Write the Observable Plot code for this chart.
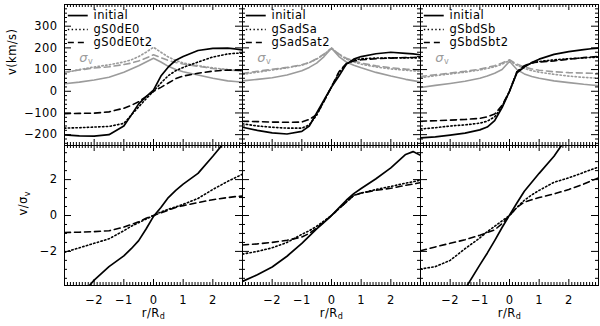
<!DOCTYPE html>
<html><head><meta charset="utf-8">
<script src="https://cdn.jsdelivr.net/npm/d3@7"></script>
<script src="https://cdn.jsdelivr.net/npm/@observablehq/plot@0.6"></script>
<style>
body{margin:0;background:#fff;}
#chart{position:relative;width:600px;height:326px;overflow:hidden;background:#fff;}
#chart svg{position:absolute;left:0;background:transparent !important;}
</style></head><body><div id="chart"></div>
<script>
// radius grid (r / R_d)
const rGrid = [-3,-2.5,-2,-1.5,-1,-0.75,-0.5,-0.25,0,0.25,0.5,0.75,1,1.5,2,2.5,2.75,3];
const panels = ["gS0dE0","gSadSa","gSbdSb"];
const legendNames = [["initial","gS0dE0","gS0dE0t2"],["initial","gSadSa","gSadSat2"],["initial","gSbdSb","gSbdSbt2"]];

// top row: rotation velocity v (km/s)
const v1Init  = [-201,-206,-207,-200,-160,-110,-58,-25,5,70,112,143,160,188,198,199,195,190];
const v1Merg  = [-170,-168,-165,-162,-148,-110,-72,-35,0,38,72,95,110,135,158,172,175,176];
const v1Merg2 = [-103,-102,-101,-95,-78,-65,-48,-25,0,18,38,58,70,83,93,98,97,96];
const s1Init  = [35,42,52,65,88,103,118,135,152,135,115,100,90,75,60,48,45,42];
const s1Merg  = [85,100,112,122,135,145,160,180,203,180,158,142,130,118,108,100,97,95];
const s1Merg2 = [88,98,107,113,123,130,140,153,168,155,142,133,126,115,105,98,96,95];

const v2Init  = [-166,-180,-192,-197,-185,-160,-100,-40,20,70,125,148,160,173,180,175,172,168];
const v2Merg  = [-150,-160,-166,-170,-170,-155,-110,-45,20,85,125,143,150,153,154,154,154,154];
const v2Merg2 = [-138,-140,-142,-143,-142,-130,-108,-45,20,90,128,140,145,150,153,155,156,157];
const s2Init  = [48,55,62,75,95,110,130,160,198,160,135,120,108,87,70,55,49,43];
const s2Merg  = [78,88,98,108,120,132,148,170,200,170,148,135,125,112,103,97,94,92];
const s2Merg2 = [82,92,101,110,122,133,150,172,198,172,152,140,130,117,108,102,100,98];

const v3Init  = [-215,-210,-202,-193,-178,-165,-135,-75,0,85,112,132,148,170,183,192,196,199];
const v3Merg  = [-174,-168,-160,-155,-147,-138,-118,-70,0,90,115,130,137,145,150,154,156,157];
const v3Merg2 = [-138,-136,-133,-130,-125,-118,-105,-65,0,90,118,132,135,140,148,155,158,160];
const s3Init  = [17,27,36,46,60,70,83,100,138,100,80,68,60,48,40,32,29,26];
const s3Merg  = [62,72,80,88,98,105,113,125,142,120,105,95,88,78,70,64,62,60];
const s3Merg2 = [68,76,84,92,102,110,118,130,145,125,112,103,97,90,86,84,83,83];

// bottom row: v / sigma_v
const q1Init  = [-5.0,-4.55,-3.6,-2.85,-2.25,-1.85,-1.4,-0.75,-0.05,0.45,1.0,1.4,1.75,2.35,3.3,4.3,4.7,5.0];
const q1Merg  = [-2.05,-1.8,-1.55,-1.3,-0.85,-0.6,-0.4,-0.2,0,0.2,0.35,0.48,0.62,0.95,1.45,1.9,2.1,2.3];
const q1Merg2 = [-0.95,-0.93,-0.9,-0.85,-0.65,-0.5,-0.35,-0.15,0,0.15,0.3,0.45,0.55,0.72,0.88,1.0,1.05,1.08];
const q2Init  = [-3.67,-3.3,-2.87,-2.27,-1.55,-1.15,-0.75,-0.38,0,0.42,0.85,1.22,1.5,2.05,2.65,3.4,3.56,3.35];
const q2Merg  = [-2.15,-2.0,-1.8,-1.5,-1.05,-0.85,-0.6,-0.3,0,0.38,0.75,1.12,1.25,1.45,1.62,1.8,1.88,1.97];
const q2Merg2 = [-1.64,-1.58,-1.5,-1.38,-1.2,-1.0,-0.7,-0.35,0,0.38,0.75,1.12,1.25,1.4,1.52,1.68,1.75,1.83];
const q3Init  = [-7.5,-6.4,-5.3,-4.1,-2.75,-2.1,-1.4,-0.67,0.02,0.7,1.35,1.85,2.35,3.3,4.5,5.7,6.3,6.9];
const q3Merg  = [-2.98,-2.85,-2.5,-1.85,-1.25,-0.9,-0.6,-0.3,0,0.45,0.85,1.15,1.4,1.85,2.1,2.4,2.55,2.7];
const q3Merg2 = [-1.96,-1.75,-1.55,-1.35,-1.1,-0.95,-0.8,-0.45,0,0.45,0.75,0.88,1.0,1.2,1.45,1.75,1.93,2.1];

// tick values
const xTickLabels = [-2,-1,0,1,2];
const yTopLabels = [-200,-100,0,100,200,300];
const yBotLabels = [-2,0,2];

// ---- build tidy tables
const rows = (panel, series, vals) => rGrid.map((r, i) => ({panel, series, r, y: vals[i]}));
const topRows = [
  ...rows(panels[0],"init",v1Init), ...rows(panels[0],"merg",v1Merg), ...rows(panels[0],"merg2",v1Merg2),
  ...rows(panels[0],"sinit",s1Init), ...rows(panels[0],"smerg",s1Merg), ...rows(panels[0],"smerg2",s1Merg2),
  ...rows(panels[1],"init",v2Init), ...rows(panels[1],"merg",v2Merg), ...rows(panels[1],"merg2",v2Merg2),
  ...rows(panels[1],"sinit",s2Init), ...rows(panels[1],"smerg",s2Merg), ...rows(panels[1],"smerg2",s2Merg2),
  ...rows(panels[2],"init",v3Init), ...rows(panels[2],"merg",v3Merg), ...rows(panels[2],"merg2",v3Merg2),
  ...rows(panels[2],"sinit",s3Init), ...rows(panels[2],"smerg",s3Merg), ...rows(panels[2],"smerg2",s3Merg2)
];
const botRows = [
  ...rows(panels[0],"init",q1Init), ...rows(panels[0],"merg",q1Merg), ...rows(panels[0],"merg2",q1Merg2),
  ...rows(panels[1],"init",q2Init), ...rows(panels[1],"merg",q2Merg), ...rows(panels[1],"merg2",q2Merg2),
  ...rows(panels[2],"init",q3Init), ...rows(panels[2],"merg",q3Merg), ...rows(panels[2],"merg2",q3Merg2)
];
const sel = (data, s) => data.filter(d => d.series === s);

// ---- layout / style
const W = 600, ML = 64, MR = 2;
const facetW = (W - ML - MR) / 3;
const topH = 141, botH = 140;
const GRAY = "#9b9b9b";
const FONT = "'DejaVu Sans', Verdana, sans-serif";
const FS = 11.5;
const DOT = "1.4,2.4", DASH = "6,4";
const minusFmt = d => d < 0 ? "\u2212" + Math.abs(d) : String(d);

const xMinor = d3.range(-29, 30).filter(i => i % 10 !== 0).map(i => i / 10);
const yTopMinor = d3.range(-240, 400, 20).filter(v => v % 100 !== 0);
const yTopMajor = d3.range(-200, 400, 100);
const yBotMinor = d3.range(-3.5, 3.6, 0.5).filter(v => Math.abs(v % 2) > 1e-9);

function frameTicks(h, yMajor, yMinor) {
  return [
    Plot.tickX(xMinor, {x: d => d, insetTop: h - 3, stroke: "black"}),
    Plot.tickX(xMinor, {x: d => d, insetBottom: h - 3, stroke: "black"}),
    Plot.tickX(xTickLabels, {x: d => d, insetTop: h - 6, stroke: "black"}),
    Plot.tickX(xTickLabels, {x: d => d, insetBottom: h - 6, stroke: "black"}),
    Plot.tickY(yMinor, {y: d => d, insetRight: facetW - 3, stroke: "black"}),
    Plot.tickY(yMinor, {y: d => d, insetLeft: facetW - 3, stroke: "black"}),
    Plot.tickY(yMajor, {y: d => d, insetRight: facetW - 7, stroke: "black"}),
    Plot.tickY(yMajor, {y: d => d, insetLeft: facetW - 7, stroke: "black"}),
    Plot.frame({stroke: "black", strokeWidth: 1})
  ];
}

// legend placement (data coordinates of the top panels)
const legX1 = -2.87, legX2 = -2.2, legTextX = -2.02;
const legLineY = [349, 285, 225];
const legTextY = [351, 287, 224];
const legRows = panels.flatMap((p, pi) => legendNames[pi].map((name, i) => ({panel: p, i, name})));

const baseStyle = {fontFamily: FONT, fontSize: FS + "px", background: "transparent", color: "black", letterSpacing: "0.4px"};

const topPlot = Plot.plot({
  width: W, height: 4 + topH + 1,
  marginLeft: ML, marginRight: MR, marginTop: 4, marginBottom: 1,
  style: baseStyle,
  fx: {domain: panels, padding: 0, axis: null},
  x: {domain: [-3, 3], axis: null},
  y: {domain: [-250, 400], ticks: yTopLabels, tickSize: 0, tickPadding: 7, label: null, tickFormat: minusFmt},
  marks: [
    Plot.line(sel(topRows,"sinit"), {x:"r", y:"y", fx:"panel", stroke: GRAY, strokeWidth: 1.6, clip: true}),
    Plot.line(sel(topRows,"smerg"), {x:"r", y:"y", fx:"panel", stroke: GRAY, strokeWidth: 1.6, strokeDasharray: DOT, clip: true}),
    Plot.line(sel(topRows,"smerg2"), {x:"r", y:"y", fx:"panel", stroke: GRAY, strokeWidth: 1.6, strokeDasharray: DASH, clip: true}),
    Plot.line(sel(topRows,"init"), {x:"r", y:"y", fx:"panel", stroke: "black", strokeWidth: 1.7, clip: true}),
    Plot.line(sel(topRows,"merg"), {x:"r", y:"y", fx:"panel", stroke: "black", strokeWidth: 1.6, strokeDasharray: DOT, clip: true}),
    Plot.line(sel(topRows,"merg2"), {x:"r", y:"y", fx:"panel", stroke: "black", strokeWidth: 1.6, strokeDasharray: DASH, clip: true}),
    ...frameTicks(topH, yTopMajor, yTopMinor),
    // legend
    Plot.ruleY(legRows.filter(d => d.i === 0), {fx:"panel", y: () => legLineY[0], x1: () => legX1, x2: () => legX2, stroke: "black", strokeWidth: 1.7}),
    Plot.ruleY(legRows.filter(d => d.i === 1), {fx:"panel", y: () => legLineY[1], x1: () => legX1, x2: () => legX2, stroke: "black", strokeWidth: 1.6, strokeDasharray: DOT}),
    Plot.ruleY(legRows.filter(d => d.i === 2), {fx:"panel", y: () => legLineY[2], x1: () => legX1, x2: () => legX2, stroke: "black", strokeWidth: 1.6, strokeDasharray: DASH}),
    Plot.text(legRows, {fx:"panel", x: () => legTextX, y: d => legTextY[d.i], text: "name", textAnchor: "start", fill: "black", fontSize: FS}),
    // sigma label
    Plot.text(panels, {fx: d => d, x: () => -2.5, y: () => 155, text: () => "σ_v", textAnchor: "start", fill: GRAY, fontSize: 13, fontStyle: "italic"}),
    // y label
    Plot.text([panels[0]], {fx: d => d, frameAnchor: "left", dx: -52, rotate: -90, text: () => "v(km/s)", fill: "black", fontSize: FS})
  ]
});

const botPlot = Plot.plot({
  width: W, height: 1 + botH + 41,
  marginLeft: ML, marginRight: MR, marginTop: 1, marginBottom: 41,
  style: baseStyle,
  fx: {domain: panels, padding: 0, axis: null},
  x: {domain: [-3, 3], ticks: xTickLabels, tickSize: 0, tickPadding: 10, label: null, tickFormat: minusFmt},
  y: {domain: [-3.9, 3.9], ticks: yBotLabels, tickSize: 0, tickPadding: 7, label: null, tickFormat: minusFmt},
  marks: [
    Plot.line(sel(botRows,"init"), {x:"r", y:"y", fx:"panel", stroke: "black", strokeWidth: 1.7, clip: true}),
    Plot.line(sel(botRows,"merg"), {x:"r", y:"y", fx:"panel", stroke: "black", strokeWidth: 1.6, strokeDasharray: DOT, clip: true}),
    Plot.line(sel(botRows,"merg2"), {x:"r", y:"y", fx:"panel", stroke: "black", strokeWidth: 1.6, strokeDasharray: DASH, clip: true}),
    ...frameTicks(botH, yBotLabels, yBotMinor),
    Plot.text(panels, {fx: d => d, frameAnchor: "bottom", dy: 31, text: () => "r/R_d", fill: "black", fontSize: FS}),
    Plot.text([panels[0]], {fx: d => d, frameAnchor: "left", dx: -41, rotate: -90, text: () => "v/σ_v", fill: "black", fontSize: FS})
  ]
});

function subscripts(svg) {
  svg.querySelectorAll("text").forEach(t => {
    const s = t.textContent;
    if (!s.includes("_") || t.querySelector("tspan")) return;
    const [base, sub] = s.split("_");
    t.textContent = "";
    const ns = "http://www.w3.org/2000/svg";
    const a = document.createElementNS(ns, "tspan"); a.textContent = base; t.appendChild(a);
    const b = document.createElementNS(ns, "tspan"); b.textContent = sub;
    b.setAttribute("font-size", "8"); b.setAttribute("font-style", "normal"); b.setAttribute("dy", "0.3em"); t.appendChild(b);
  });
}
subscripts(topPlot); subscripts(botPlot);

topPlot.style.top = "0px";
botPlot.style.top = "144px";
const chart = document.getElementById("chart");
chart.appendChild(topPlot);
chart.appendChild(botPlot);
</script></body></html>
